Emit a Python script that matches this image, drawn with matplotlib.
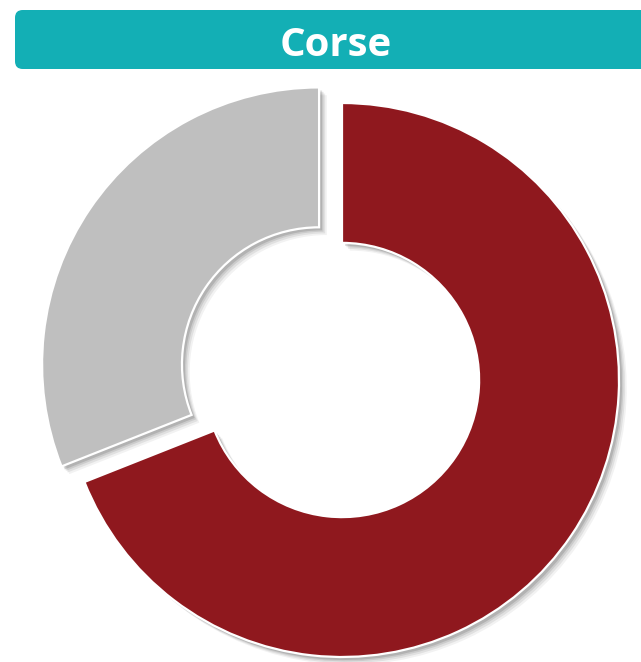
import matplotlib
matplotlib.use("Agg")
import matplotlib.pyplot as plt
from matplotlib.patches import FancyBboxPatch

title = "Corse"
labels = ["Oui", "Non"]
values = [69, 31]
colors = ["#8F181E", "#BFBFBF"]
explode = [0.0, 0.1]

W, H = 641, 662
fig = plt.figure(figsize=(W / 100, H / 100), dpi=100)
fig.patch.set_facecolor("white")

# pie axes: center at (342, 380) px from top-left, radius 277 px
cx, cy, R = 342, 380, 277
ax = fig.add_axes([0, 0, 1, 1])
ax.set_axis_off()

# soft drop shadow
for i, (dx, a) in enumerate([(0.028, 0.05), (0.022, 0.07), (0.016, 0.09), (0.011, 0.12)]):
    ws, _ = ax.pie(values, startangle=90, counterclock=False, explode=explode,
                   colors=["#000000"] * len(values), center=(dx, -dx),
                   wedgeprops=dict(width=0.505, linewidth=0, alpha=a))

wedges, _ = ax.pie(values, startangle=90, counterclock=False, explode=explode,
                   colors=colors,
                   wedgeprops=dict(width=0.505, edgecolor="white", linewidth=1.6))

ax.set_aspect("auto")
ax.set_xlim(-cx / R, (W - cx) / R)
ax.set_ylim(-(H - cy) / R, cy / R)

# title banner
banner = FancyBboxPatch((15 / W, 1 - 69 / H), (W + 20 - 15) / W, 59 / H,
                        boxstyle="round,pad=0,rounding_size=0.012",
                        transform=fig.transFigure, facecolor="#13AFB5",
                        edgecolor="none", mutation_aspect=W / H, zorder=5)
fig.patches.append(banner)
fig.text(336 / W, 1 - 46 / H, title, ha="center", va="center", color="white",
         fontsize=29, fontweight="bold", family=["Open Sans", "DejaVu Sans"], zorder=6)

fig.savefig("out.png", dpi=100)
